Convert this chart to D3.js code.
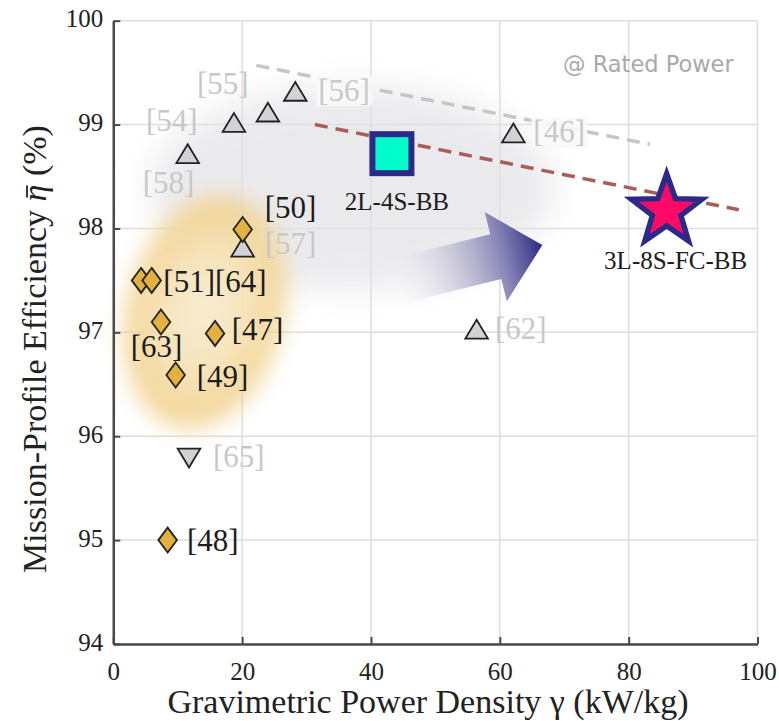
<!DOCTYPE html>
<html>
<head>
<meta charset="utf-8">
<script src="https://cdn.jsdelivr.net/npm/d3@7"></script>
<style>
  body { margin: 0; background: #fff; }
  svg { display: block; }
  .serif { font-family: "Liberation Serif", "Times New Roman", serif; }
</style>
</head>
<body>
<div id="chart"></div>
<script>
// --- data ---
var xTicks = [0, 20, 40, 60, 80, 100];
var yTicks = [94, 95, 96, 97, 98, 99, 100];

// reference designs: literature (grey triangles)
var triRefs   = ["[58]", "[54]", "[55]", "[56]", "[57]", "[46]", "[62]"];
var triX      = [11.55, 18.73, 24.0, 28.25, 20.08, 62.1, 56.4];
var triY      = [98.72, 99.02, 99.12, 99.32, 97.82, 98.92, 97.03];
var downRefs  = ["[65]"];
var downX     = [11.75];
var downY     = [95.79];

// reference designs: literature (yellow diamonds)
var diaRefs   = ["[50]", "[51]", "[64]", "[63]", "[47]", "[49]", "[48]"];
var diaX      = [20.08, 4.31, 5.96, 7.4, 15.79, 9.68, 8.44];
var diaY      = [97.99, 97.5, 97.5, 97.1, 96.99, 96.59, 95.0];

// this work
var squareName = "2L-4S-BB", squareX = 43.25, squareY = 98.72;
var starName = "3L-8S-FC-BB", starX = 85.9, starY = 98.17;

// pareto-type trend lines
var greyLineX = [22.2, 83.3], greyLineY = [99.57, 98.81];
var redLineX  = [31.3, 97.1], redLineY  = [99.0, 98.18];

// trend arrow (tail -> tip)
var arrowX = [41.9, 66.6], arrowY = [97.46, 97.84];

// label offsets in px from marker centre (layout only)
var triLabelOff  = [[-45, 39], [-88, 8.5], [-71, -17.7], [23, 9.7], [22, 6.5], [20, 9.3], [18.3, 9.3]];
var downLabelOff = [[24, 8.7]];
var diaLabelOff  = [[22, -12], [22.3, 11.3], [63.3, 11.3], [-30.3, 35.3], [16.7, 6.7], [21, 12], [19.3, 11]];
// grey labels that sit on the dashed line get a light box
var boxedRefs = ["[56]", "[46]"];

var W = 779, H = 721;
var svg = d3.select("#chart").append("svg").attr("width", W).attr("height", H);

var x = d3.scaleLinear().domain([0, 100]).range([113.3, 757.5]);
var y = d3.scaleLinear().domain([94, 100]).range([644, 20.7]);

var defs = svg.append("defs");
defs.append("filter").attr("id", "blurG").attr("x", "-50%").attr("y", "-50%").attr("width", "200%").attr("height", "200%")
  .append("feGaussianBlur").attr("stdDeviation", 16);
defs.append("filter").attr("id", "blurY").attr("x", "-50%").attr("y", "-50%").attr("width", "200%").attr("height", "200%")
  .append("feGaussianBlur").attr("stdDeviation", 11);

var yg = defs.append("radialGradient").attr("id", "yellowGrad");
yg.append("stop").attr("offset", "0%").attr("stop-color", "#f8ecd2");
yg.append("stop").attr("offset", "55%").attr("stop-color", "#f6e2b4");
yg.append("stop").attr("offset", "100%").attr("stop-color", "#f1cf86");

// grid
svg.append("g").selectAll("line").data(xTicks).enter().append("line")
  .attr("x1", d => x(d)).attr("x2", d => x(d)).attr("y1", y(94)).attr("y2", y(100))
  .attr("stroke", "#dedede").attr("stroke-width", 1.5);
svg.append("g").selectAll("line").data(yTicks).enter().append("line")
  .attr("x1", x(0)).attr("x2", x(100)).attr("y1", d => y(d)).attr("y2", d => y(d))
  .attr("stroke", "#dedede").attr("stroke-width", 1.5);

// soft background clouds
svg.append("ellipse")
  .attr("cx", 352).attr("cy", 188).attr("rx", 202).attr("ry", 102)
  .attr("fill", "#e0e0e4").attr("opacity", 0.65).attr("filter", "url(#blurG)");
svg.append("ellipse")
  .attr("cx", 0).attr("cy", 0).attr("rx", 78).attr("ry", 118)
  .attr("transform", "translate(205,312) rotate(14)")
  .attr("fill", "url(#yellowGrad)").attr("opacity", 0.92).attr("filter", "url(#blurY)");

// dashed trend lines
svg.append("line")
  .attr("x1", x(greyLineX[0])).attr("y1", y(greyLineY[0]))
  .attr("x2", x(greyLineX[1])).attr("y2", y(greyLineY[1]))
  .attr("stroke", "#c6c6c6").attr("stroke-width", 3.5).attr("stroke-dasharray", "13,8");
svg.append("line")
  .attr("x1", x(redLineX[0])).attr("y1", y(redLineY[0]))
  .attr("x2", x(redLineX[1])).attr("y2", y(redLineY[1]))
  .attr("stroke", "#aa5c58").attr("stroke-width", 3.5).attr("stroke-dasharray", "13,8");

// light boxes behind labels that cut the grey dashed line
svg.append("g").selectAll("rect").data(triRefs.filter(d => boxedRefs.indexOf(d) >= 0)).enter().append("rect")
  .each(function(d) {
    var i = triRefs.indexOf(d);
    d3.select(this)
      .attr("x", x(triX[i]) + triLabelOff[i][0] - 2)
      .attr("y", y(triY[i]) + triLabelOff[i][1] - 25)
      .attr("width", 56).attr("height", 30);
  })
  .attr("fill", "#f8f8f9").attr("opacity", 0.92);

// arrow
(function() {
  var x0 = x(arrowX[0]), y0 = y(arrowY[0]), x1 = x(arrowX[1]), y1 = y(arrowY[1]);
  var len = Math.hypot(x1 - x0, y1 - y0);
  var ux = (x1 - x0) / len, uy = (y1 - y0) / len, nx = -uy, ny = ux;
  var shaft = 23, head = 46, headLen = 48;
  var bx = x1 - ux * headLen, by = y1 - uy * headLen;
  var pts = [
    [x0 + nx * shaft, y0 + ny * shaft],
    [bx + nx * shaft, by + ny * shaft],
    [bx + nx * head, by + ny * head],
    [x1, y1],
    [bx - nx * head, by - ny * head],
    [bx - nx * shaft, by - ny * shaft],
    [x0 - nx * shaft, y0 - ny * shaft]
  ];
  var ag = defs.append("linearGradient").attr("id", "arrowGrad")
    .attr("gradientUnits", "userSpaceOnUse")
    .attr("x1", x0).attr("y1", y0).attr("x2", x1).attr("y2", y1);
  ag.append("stop").attr("offset", "0%").attr("stop-color", "#ffffff").attr("stop-opacity", 0);
  ag.append("stop").attr("offset", "40%").attr("stop-color", "#c4c1d4").attr("stop-opacity", 0.6);
  ag.append("stop").attr("offset", "75%").attr("stop-color", "#7a78ad").attr("stop-opacity", 0.9);
  ag.append("stop").attr("offset", "100%").attr("stop-color", "#2b2a82").attr("stop-opacity", 1);
  svg.append("path").attr("d", "M" + pts.map(p => p.join(",")).join("L") + "Z")
    .attr("fill", "url(#arrowGrad)");
})();

// markers
var triUp = "M0,-9.4L11.3,9.4L-11.3,9.4Z";
var triDown = "M0,9.4L11.3,-9.4L-11.3,-9.4Z";
var diamond = "M0,-12.5L9.3,0L0,12.5L-9.3,0Z";

function drawMarkers(xs, ys, shape, fill) {
  svg.append("g").selectAll("path").data(xs).enter().append("path")
    .attr("d", shape)
    .attr("transform", (d, i) => "translate(" + x(d) + "," + y(ys[i]) + ")")
    .attr("fill", fill).attr("stroke", "#222").attr("stroke-width", 1.8)
    .attr("stroke-linejoin", "miter");
}
drawMarkers(triX, triY, triUp, "#d2d2d4");
drawMarkers(downX, downY, triDown, "#d2d2d4");
drawMarkers(diaX, diaY, diamond, "#e2b13f");

function drawLabels(names, xs, ys, off, color) {
  svg.append("g").selectAll("text").data(names).enter().append("text")
    .attr("class", "serif")
    .attr("x", (d, i) => x(xs[i]) + off[i][0])
    .attr("y", (d, i) => y(ys[i]) + off[i][1])
    .attr("font-size", 31).attr("fill", color)
    .text(d => d);
}
drawLabels(triRefs, triX, triY, triLabelOff, "#c8c8c8");
drawLabels(downRefs, downX, downY, downLabelOff, "#c8c8c8");
drawLabels(diaRefs, diaX, diaY, diaLabelOff, "#1c1c1c");

// this work: square
svg.append("rect")
  .attr("x", x(squareX) - 19.5).attr("y", y(squareY) - 19.5)
  .attr("width", 39).attr("height", 39)
  .attr("fill", "#00fcca").attr("stroke", "#2c2a88").attr("stroke-width", 6);
svg.append("text")
  .attr("class", "serif")
  .attr("x", x(squareX) + 5).attr("y", y(squareY) + 56)
  .attr("text-anchor", "middle")
  .attr("font-size", 25).attr("fill", "#1c1c1c")
  .text(squareName);

// this work: star
(function() {
  var R = 37, r = 15, pts = [];
  for (var k = 0; k < 10; k++) {
    var a = -Math.PI / 2 + k * Math.PI / 5, rr = k % 2 ? r : R;
    pts.push([rr * Math.cos(a), rr * Math.sin(a)]);
  }
  svg.append("path")
    .attr("d", "M" + pts.map(p => p.join(",")).join("L") + "Z")
    .attr("transform", "translate(" + x(starX) + "," + y(starY) + ")")
    .attr("fill", "#ff0a66").attr("stroke", "#2c2a88").attr("stroke-width", 5.5)
    .attr("stroke-linejoin", "miter");
  svg.append("text")
    .attr("class", "serif")
    .attr("x", x(starX) + 9).attr("y", y(starY) + 58)
    .attr("text-anchor", "middle")
    .attr("font-size", 25).attr("fill", "#1c1c1c")
    .text(starName);
})();

// note
svg.append("text")
  .attr("x", 563).attr("y", 72)
  .attr("font-family", "'DejaVu Sans', sans-serif")
  .attr("font-size", 22.5).attr("fill", "#a9a9a9")
  .text("@ Rated Power");

// axes
var axisColor = "#4a4a4a";
var gx = svg.append("g").attr("transform", "translate(0," + y(94) + ")")
  .call(d3.axisBottom(x).tickValues(xTicks).tickFormat(d3.format("d"))
    .tickSizeInner(-7).tickSizeOuter(0).tickPadding(12));
var gy = svg.append("g").attr("transform", "translate(" + x(0) + ",0)")
  .call(d3.axisLeft(y).tickValues(yTicks).tickFormat(d3.format("d"))
    .tickSizeInner(-7).tickSizeOuter(0).tickPadding(10));
[gx, gy].forEach(function(g) {
  g.attr("font-family", null).attr("font-size", null);
  g.select(".domain").attr("stroke", axisColor).attr("stroke-width", 2.5);
  g.selectAll(".tick line").attr("stroke", axisColor).attr("stroke-width", 2);
  g.selectAll(".tick text")
    .attr("class", "serif")
    .attr("font-size", 25).attr("fill", "#222");
});
gx.selectAll(".tick text").attr("dy", "0.95em");
gy.selectAll(".tick text").attr("dy", "0.25em");

// axis titles
svg.append("text")
  .attr("class", "serif")
  .attr("x", 428).attr("y", 713)
  .attr("text-anchor", "middle")
  .attr("font-size", 34).attr("fill", "#222")
  .text("Gravimetric Power Density \u03b3 (kW/kg)");

var ytG = svg.append("g").attr("transform", "translate(46,349) rotate(-90)");
var yt = ytG.append("text")
  .attr("class", "serif")
  .attr("text-anchor", "middle")
  .attr("font-size", 34).attr("fill", "#222");
var pre = "Mission-Profile Efficiency ";
yt.append("tspan").text(pre);
yt.append("tspan").attr("font-style", "italic").text("\u03b7");
yt.append("tspan").text(" (%)");
// bar over eta
var ext = yt.node().getExtentOfChar(pre.length);
ytG.append("line")
  .attr("x1", ext.x + 4).attr("x2", ext.x + ext.width - 1)
  .attr("y1", -19).attr("y2", -19)
  .attr("stroke", "#222").attr("stroke-width", 1.8);
</script>
</body>
</html>
